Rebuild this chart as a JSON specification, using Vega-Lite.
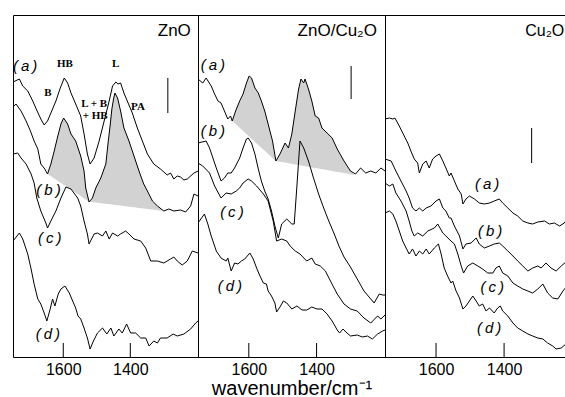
{
"$schema":"https://vega.github.io/schema/vega-lite/v6.json",
"background":"white",
"padding":{"left":12,"top":14,"right":0,"bottom":0},
"config":{"view":{"stroke":"#000","strokeWidth":1},
"axis":{"format":"d","labelFont":"Liberation Sans","labelFontSize":16,"labelColor":"#000","labelPadding":4,"labelFlush":false,"labelOverlap":false,"ticks":false,"domain":false,"grid":false,"titleFont":"Liberation Sans","titleFontSize":20,"titleFontWeight":"normal","titleColor":"#000","titleBaseline":"alphabetic","titleY":37}},
"datasets":{
"spectra":[
{"panel":1,"curve":"a","wn":1750,"abs":275},{"panel":1,"curve":"a","wn":1731,"abs":278},{"panel":1,"curve":"a","wn":1721,"abs":271},{"panel":1,"curve":"a","wn":1706,"abs":266},{"panel":1,"curve":"a","wn":1691,"abs":256},{"panel":1,"curve":"a","wn":1682,"abs":249},{"panel":1,"curve":"a","wn":1667,"abs":238},{"panel":1,"curve":"a","wn":1657,"abs":232},{"panel":1,"curve":"a","wn":1647,"abs":236},{"panel":1,"curve":"a","wn":1632,"abs":248},{"panel":1,"curve":"a","wn":1622,"abs":256},{"panel":1,"curve":"a","wn":1609,"abs":269},{"panel":1,"curve":"a","wn":1597,"abs":279},{"panel":1,"curve":"a","wn":1587,"abs":274},{"panel":1,"curve":"a","wn":1577,"abs":264},{"panel":1,"curve":"a","wn":1563,"abs":253},{"panel":1,"curve":"a","wn":1548,"abs":241},{"panel":1,"curve":"a","wn":1538,"abs":223},{"panel":1,"curve":"a","wn":1528,"abs":203},{"panel":1,"curve":"a","wn":1520,"abs":193},{"panel":1,"curve":"a","wn":1508,"abs":199},{"panel":1,"curve":"a","wn":1493,"abs":216},{"panel":1,"curve":"a","wn":1478,"abs":236},{"panel":1,"curve":"a","wn":1463,"abs":256},{"panel":1,"curve":"a","wn":1453,"abs":271},{"panel":1,"curve":"a","wn":1443,"abs":275},{"panel":1,"curve":"a","wn":1437,"abs":273},{"panel":1,"curve":"a","wn":1429,"abs":274},{"panel":1,"curve":"a","wn":1419,"abs":264},{"panel":1,"curve":"a","wn":1409,"abs":256},{"panel":1,"curve":"a","wn":1394,"abs":244},{"panel":1,"curve":"a","wn":1379,"abs":229},{"panel":1,"curve":"a","wn":1364,"abs":216},{"panel":1,"curve":"a","wn":1349,"abs":203},{"panel":1,"curve":"a","wn":1330,"abs":193},{"panel":1,"curve":"a","wn":1310,"abs":188},{"panel":1,"curve":"a","wn":1290,"abs":182},{"panel":1,"curve":"a","wn":1280,"abs":184},{"panel":1,"curve":"a","wn":1270,"abs":178},{"panel":1,"curve":"a","wn":1260,"abs":181},{"panel":1,"curve":"a","wn":1250,"abs":180},{"panel":1,"curve":"a","wn":1240,"abs":177},{"panel":1,"curve":"a","wn":1230,"abs":178},{"panel":1,"curve":"a","wn":1210,"abs":184},{"panel":1,"curve":"a","wn":1198,"abs":186},
{"panel":1,"curve":"b","wn":1750,"abs":250},{"panel":1,"curve":"b","wn":1741,"abs":253},{"panel":1,"curve":"b","wn":1726,"abs":246},{"panel":1,"curve":"b","wn":1711,"abs":236},{"panel":1,"curve":"b","wn":1698,"abs":226},{"panel":1,"curve":"b","wn":1687,"abs":216},{"panel":1,"curve":"b","wn":1676,"abs":208},{"panel":1,"curve":"b","wn":1667,"abs":193},{"panel":1,"curve":"b","wn":1655,"abs":188},{"panel":1,"curve":"b","wn":1647,"abs":183},{"panel":1,"curve":"b","wn":1637,"abs":193},{"panel":1,"curve":"b","wn":1627,"abs":206},{"panel":1,"curve":"b","wn":1617,"abs":220},{"panel":1,"curve":"b","wn":1607,"abs":233},{"panel":1,"curve":"b","wn":1599,"abs":239},{"panel":1,"curve":"b","wn":1587,"abs":233},{"panel":1,"curve":"b","wn":1577,"abs":223},{"panel":1,"curve":"b","wn":1563,"abs":216},{"panel":1,"curve":"b","wn":1548,"abs":201},{"panel":1,"curve":"b","wn":1538,"abs":186},{"panel":1,"curve":"b","wn":1533,"abs":169},{"panel":1,"curve":"b","wn":1523,"abs":155},{"panel":1,"curve":"b","wn":1513,"abs":159},{"panel":1,"curve":"b","wn":1503,"abs":169},{"panel":1,"curve":"b","wn":1488,"abs":179},{"panel":1,"curve":"b","wn":1473,"abs":193},{"panel":1,"curve":"b","wn":1466,"abs":215},{"panel":1,"curve":"b","wn":1460,"abs":232},{"panel":1,"curve":"b","wn":1455,"abs":248},{"panel":1,"curve":"b","wn":1450,"abs":258},{"panel":1,"curve":"b","wn":1446,"abs":264},{"panel":1,"curve":"b","wn":1438,"abs":259},{"panel":1,"curve":"b","wn":1429,"abs":246},{"panel":1,"curve":"b","wn":1419,"abs":229},{"panel":1,"curve":"b","wn":1404,"abs":216},{"panel":1,"curve":"b","wn":1389,"abs":201},{"panel":1,"curve":"b","wn":1374,"abs":186},{"panel":1,"curve":"b","wn":1360,"abs":173},{"panel":1,"curve":"b","wn":1349,"abs":166},{"panel":1,"curve":"b","wn":1334,"abs":156},{"panel":1,"curve":"b","wn":1319,"abs":151},{"panel":1,"curve":"b","wn":1300,"abs":146},{"panel":1,"curve":"b","wn":1285,"abs":148},{"panel":1,"curve":"b","wn":1270,"abs":146},{"panel":1,"curve":"b","wn":1250,"abs":147},{"panel":1,"curve":"b","wn":1235,"abs":145},{"panel":1,"curve":"b","wn":1220,"abs":151},{"panel":1,"curve":"b","wn":1210,"abs":163},{"panel":1,"curve":"b","wn":1198,"abs":161},
{"panel":1,"curve":"c","wn":1750,"abs":203},{"panel":1,"curve":"c","wn":1736,"abs":204},{"panel":1,"curve":"c","wn":1726,"abs":199},{"panel":1,"curve":"c","wn":1711,"abs":193},{"panel":1,"curve":"c","wn":1696,"abs":183},{"panel":1,"curve":"c","wn":1687,"abs":174},{"panel":1,"curve":"c","wn":1679,"abs":159},{"panel":1,"curve":"c","wn":1667,"abs":146},{"panel":1,"curve":"c","wn":1652,"abs":134},{"panel":1,"curve":"c","wn":1647,"abs":129},{"panel":1,"curve":"c","wn":1637,"abs":136},{"panel":1,"curve":"c","wn":1622,"abs":146},{"panel":1,"curve":"c","wn":1607,"abs":159},{"panel":1,"curve":"c","wn":1592,"abs":170},{"panel":1,"curve":"c","wn":1577,"abs":168},{"panel":1,"curve":"c","wn":1557,"abs":159},{"panel":1,"curve":"c","wn":1548,"abs":151},{"panel":1,"curve":"c","wn":1538,"abs":136},{"panel":1,"curve":"c","wn":1528,"abs":123},{"panel":1,"curve":"c","wn":1523,"abs":113},{"panel":1,"curve":"c","wn":1508,"abs":123},{"panel":1,"curve":"c","wn":1498,"abs":124},{"panel":1,"curve":"c","wn":1483,"abs":121},{"panel":1,"curve":"c","wn":1473,"abs":126},{"panel":1,"curve":"c","wn":1463,"abs":118},{"panel":1,"curve":"c","wn":1453,"abs":124},{"panel":1,"curve":"c","wn":1438,"abs":121},{"panel":1,"curve":"c","wn":1429,"abs":123},{"panel":1,"curve":"c","wn":1414,"abs":126},{"panel":1,"curve":"c","wn":1404,"abs":123},{"panel":1,"curve":"c","wn":1389,"abs":118},{"panel":1,"curve":"c","wn":1369,"abs":116},{"panel":1,"curve":"c","wn":1354,"abs":109},{"panel":1,"curve":"c","wn":1339,"abs":96},{"panel":1,"curve":"c","wn":1319,"abs":96},{"panel":1,"curve":"c","wn":1300,"abs":94},{"panel":1,"curve":"c","wn":1280,"abs":98},{"panel":1,"curve":"c","wn":1270,"abs":100},{"panel":1,"curve":"c","wn":1260,"abs":96},{"panel":1,"curve":"c","wn":1245,"abs":92},{"panel":1,"curve":"c","wn":1230,"abs":96},{"panel":1,"curve":"c","wn":1215,"abs":106},{"panel":1,"curve":"c","wn":1198,"abs":104},
{"panel":1,"curve":"d","wn":1750,"abs":116},{"panel":1,"curve":"d","wn":1731,"abs":124},{"panel":1,"curve":"d","wn":1721,"abs":118},{"panel":1,"curve":"d","wn":1706,"abs":103},{"panel":1,"curve":"d","wn":1696,"abs":88},{"panel":1,"curve":"d","wn":1687,"abs":73},{"panel":1,"curve":"d","wn":1676,"abs":58},{"panel":1,"curve":"d","wn":1667,"abs":53},{"panel":1,"curve":"d","wn":1657,"abs":44},{"panel":1,"curve":"d","wn":1649,"abs":36},{"panel":1,"curve":"d","wn":1639,"abs":48},{"panel":1,"curve":"d","wn":1632,"abs":58},{"panel":1,"curve":"d","wn":1625,"abs":51},{"panel":1,"curve":"d","wn":1615,"abs":63},{"panel":1,"curve":"d","wn":1607,"abs":68},{"panel":1,"curve":"d","wn":1595,"abs":71},{"panel":1,"curve":"d","wn":1582,"abs":64},{"panel":1,"curve":"d","wn":1572,"abs":56},{"panel":1,"curve":"d","wn":1563,"abs":49},{"panel":1,"curve":"d","wn":1556,"abs":41},{"panel":1,"curve":"d","wn":1548,"abs":38},{"panel":1,"curve":"d","wn":1538,"abs":29},{"panel":1,"curve":"d","wn":1528,"abs":19},{"panel":1,"curve":"d","wn":1520,"abs":8},{"panel":1,"curve":"d","wn":1510,"abs":16},{"panel":1,"curve":"d","wn":1498,"abs":24},{"panel":1,"curve":"d","wn":1483,"abs":29},{"panel":1,"curve":"d","wn":1470,"abs":23},{"panel":1,"curve":"d","wn":1458,"abs":29},{"panel":1,"curve":"d","wn":1449,"abs":21},{"panel":1,"curve":"d","wn":1434,"abs":28},{"panel":1,"curve":"d","wn":1424,"abs":24},{"panel":1,"curve":"d","wn":1411,"abs":33},{"panel":1,"curve":"d","wn":1399,"abs":24},{"panel":1,"curve":"d","wn":1384,"abs":24},{"panel":1,"curve":"d","wn":1369,"abs":19},{"panel":1,"curve":"d","wn":1354,"abs":19},{"panel":1,"curve":"d","wn":1344,"abs":11},{"panel":1,"curve":"d","wn":1330,"abs":16},{"panel":1,"curve":"d","wn":1319,"abs":14},{"panel":1,"curve":"d","wn":1310,"abs":19},{"panel":1,"curve":"d","wn":1290,"abs":19},{"panel":1,"curve":"d","wn":1272,"abs":23},{"panel":1,"curve":"d","wn":1260,"abs":21},{"panel":1,"curve":"d","wn":1240,"abs":23},{"panel":1,"curve":"d","wn":1220,"abs":28},{"panel":1,"curve":"d","wn":1205,"abs":34},{"panel":1,"curve":"d","wn":1198,"abs":36},
{"panel":2,"curve":"a","wn":1750,"abs":278},{"panel":2,"curve":"a","wn":1736,"abs":274},{"panel":2,"curve":"a","wn":1726,"abs":279},{"panel":2,"curve":"a","wn":1711,"abs":271},{"panel":2,"curve":"a","wn":1701,"abs":263},{"panel":2,"curve":"a","wn":1691,"abs":256},{"panel":2,"curve":"a","wn":1682,"abs":254},{"panel":2,"curve":"a","wn":1672,"abs":246},{"panel":2,"curve":"a","wn":1662,"abs":238},{"panel":2,"curve":"a","wn":1654,"abs":241},{"panel":2,"curve":"a","wn":1649,"abs":236},{"panel":2,"curve":"a","wn":1639,"abs":246},{"panel":2,"curve":"a","wn":1627,"abs":256},{"panel":2,"curve":"a","wn":1617,"abs":263},{"panel":2,"curve":"a","wn":1607,"abs":274},{"panel":2,"curve":"a","wn":1599,"abs":281},{"panel":2,"curve":"a","wn":1592,"abs":279},{"panel":2,"curve":"a","wn":1582,"abs":269},{"panel":2,"curve":"a","wn":1572,"abs":264},{"panel":2,"curve":"a","wn":1563,"abs":256},{"panel":2,"curve":"a","wn":1553,"abs":246},{"panel":2,"curve":"a","wn":1543,"abs":233},{"panel":2,"curve":"a","wn":1530,"abs":216},{"panel":2,"curve":"a","wn":1520,"abs":196},{"panel":2,"curve":"a","wn":1508,"abs":203},{"panel":2,"curve":"a","wn":1493,"abs":214},{"panel":2,"curve":"a","wn":1483,"abs":209},{"panel":2,"curve":"a","wn":1473,"abs":223},{"panel":2,"curve":"a","wn":1463,"abs":246},{"panel":2,"curve":"a","wn":1453,"abs":268},{"panel":2,"curve":"a","wn":1446,"abs":278},{"panel":2,"curve":"a","wn":1438,"abs":274},{"panel":2,"curve":"a","wn":1434,"abs":278},{"panel":2,"curve":"a","wn":1424,"abs":268},{"panel":2,"curve":"a","wn":1414,"abs":256},{"panel":2,"curve":"a","wn":1404,"abs":241},{"panel":2,"curve":"a","wn":1394,"abs":239},{"panel":2,"curve":"a","wn":1384,"abs":229},{"panel":2,"curve":"a","wn":1369,"abs":224},{"panel":2,"curve":"a","wn":1354,"abs":219},{"panel":2,"curve":"a","wn":1339,"abs":208},{"panel":2,"curve":"a","wn":1319,"abs":196},{"panel":2,"curve":"a","wn":1300,"abs":186},{"panel":2,"curve":"a","wn":1285,"abs":183},{"panel":2,"curve":"a","wn":1270,"abs":189},{"panel":2,"curve":"a","wn":1255,"abs":184},{"panel":2,"curve":"a","wn":1240,"abs":186},{"panel":2,"curve":"a","wn":1225,"abs":184},{"panel":2,"curve":"a","wn":1210,"abs":189},{"panel":2,"curve":"a","wn":1198,"abs":186},
{"panel":2,"curve":"b","wn":1750,"abs":214},{"panel":2,"curve":"b","wn":1726,"abs":216},{"panel":2,"curve":"b","wn":1716,"abs":209},{"panel":2,"curve":"b","wn":1706,"abs":199},{"panel":2,"curve":"b","wn":1696,"abs":189},{"panel":2,"curve":"b","wn":1682,"abs":176},{"panel":2,"curve":"b","wn":1672,"abs":179},{"panel":2,"curve":"b","wn":1662,"abs":184},{"panel":2,"curve":"b","wn":1652,"abs":184},{"panel":2,"curve":"b","wn":1642,"abs":189},{"panel":2,"curve":"b","wn":1627,"abs":199},{"panel":2,"curve":"b","wn":1617,"abs":209},{"panel":2,"curve":"b","wn":1607,"abs":218},{"panel":2,"curve":"b","wn":1602,"abs":219},{"panel":2,"curve":"b","wn":1592,"abs":214},{"panel":2,"curve":"b","wn":1582,"abs":203},{"panel":2,"curve":"b","wn":1572,"abs":188},{"panel":2,"curve":"b","wn":1563,"abs":176},{"panel":2,"curve":"b","wn":1553,"abs":166},{"panel":2,"curve":"b","wn":1543,"abs":158},{"panel":2,"curve":"b","wn":1533,"abs":146},{"panel":2,"curve":"b","wn":1523,"abs":131},{"panel":2,"curve":"b","wn":1513,"abs":119},{"panel":2,"curve":"b","wn":1503,"abs":133},{"panel":2,"curve":"b","wn":1488,"abs":138},{"panel":2,"curve":"b","wn":1473,"abs":133},{"panel":2,"curve":"b","wn":1466,"abs":133},{"panel":2,"curve":"b","wn":1458,"abs":171},{"panel":2,"curve":"b","wn":1449,"abs":216},{"panel":2,"curve":"b","wn":1438,"abs":209},{"panel":2,"curve":"b","wn":1424,"abs":196},{"panel":2,"curve":"b","wn":1409,"abs":179},{"panel":2,"curve":"b","wn":1394,"abs":163},{"panel":2,"curve":"b","wn":1379,"abs":149},{"panel":2,"curve":"b","wn":1364,"abs":136},{"panel":2,"curve":"b","wn":1349,"abs":124},{"panel":2,"curve":"b","wn":1334,"abs":111},{"panel":2,"curve":"b","wn":1319,"abs":100},{"panel":2,"curve":"b","wn":1300,"abs":90},{"panel":2,"curve":"b","wn":1280,"abs":78},{"panel":2,"curve":"b","wn":1260,"abs":66},{"panel":2,"curve":"b","wn":1240,"abs":58},{"panel":2,"curve":"b","wn":1230,"abs":54},{"panel":2,"curve":"b","wn":1215,"abs":63},{"panel":2,"curve":"b","wn":1205,"abs":62},{"panel":2,"curve":"b","wn":1198,"abs":62},
{"panel":2,"curve":"c","wn":1750,"abs":194},{"panel":2,"curve":"c","wn":1736,"abs":191},{"panel":2,"curve":"c","wn":1716,"abs":184},{"panel":2,"curve":"c","wn":1701,"abs":171},{"panel":2,"curve":"c","wn":1682,"abs":159},{"panel":2,"curve":"c","wn":1667,"abs":164},{"panel":2,"curve":"c","wn":1652,"abs":163},{"panel":2,"curve":"c","wn":1637,"abs":166},{"panel":2,"curve":"c","wn":1627,"abs":169},{"panel":2,"curve":"c","wn":1617,"abs":174},{"panel":2,"curve":"c","wn":1602,"abs":178},{"panel":2,"curve":"c","wn":1592,"abs":176},{"panel":2,"curve":"c","wn":1577,"abs":171},{"panel":2,"curve":"c","wn":1557,"abs":163},{"panel":2,"curve":"c","wn":1543,"abs":156},{"panel":2,"curve":"c","wn":1528,"abs":136},{"panel":2,"curve":"c","wn":1518,"abs":116},{"panel":2,"curve":"c","wn":1503,"abs":118},{"panel":2,"curve":"c","wn":1488,"abs":116},{"panel":2,"curve":"c","wn":1478,"abs":111},{"panel":2,"curve":"c","wn":1463,"abs":106},{"panel":2,"curve":"c","wn":1449,"abs":103},{"panel":2,"curve":"c","wn":1429,"abs":96},{"panel":2,"curve":"c","wn":1414,"abs":99},{"panel":2,"curve":"c","wn":1404,"abs":93},{"panel":2,"curve":"c","wn":1389,"abs":91},{"panel":2,"curve":"c","wn":1374,"abs":86},{"panel":2,"curve":"c","wn":1359,"abs":76},{"panel":2,"curve":"c","wn":1339,"abs":63},{"panel":2,"curve":"c","wn":1319,"abs":53},{"panel":2,"curve":"c","wn":1300,"abs":48},{"panel":2,"curve":"c","wn":1280,"abs":46},{"panel":2,"curve":"c","wn":1260,"abs":39},{"panel":2,"curve":"c","wn":1240,"abs":34},{"panel":2,"curve":"c","wn":1220,"abs":41},{"panel":2,"curve":"c","wn":1210,"abs":38},{"panel":2,"curve":"c","wn":1198,"abs":42},
{"panel":2,"curve":"d","wn":1750,"abs":134},{"panel":2,"curve":"d","wn":1731,"abs":143},{"panel":2,"curve":"d","wn":1721,"abs":133},{"panel":2,"curve":"d","wn":1711,"abs":121},{"panel":2,"curve":"d","wn":1696,"abs":106},{"panel":2,"curve":"d","wn":1682,"abs":99},{"panel":2,"curve":"d","wn":1667,"abs":96},{"panel":2,"curve":"d","wn":1662,"abs":99},{"panel":2,"curve":"d","wn":1652,"abs":86},{"panel":2,"curve":"d","wn":1642,"abs":94},{"panel":2,"curve":"d","wn":1632,"abs":93},{"panel":2,"curve":"d","wn":1622,"abs":96},{"panel":2,"curve":"d","wn":1612,"abs":98},{"panel":2,"curve":"d","wn":1597,"abs":104},{"panel":2,"curve":"d","wn":1587,"abs":98},{"panel":2,"curve":"d","wn":1577,"abs":89},{"panel":2,"curve":"d","wn":1567,"abs":81},{"panel":2,"curve":"d","wn":1557,"abs":74},{"panel":2,"curve":"d","wn":1548,"abs":73},{"panel":2,"curve":"d","wn":1543,"abs":66},{"panel":2,"curve":"d","wn":1533,"abs":61},{"panel":2,"curve":"d","wn":1523,"abs":54},{"panel":2,"curve":"d","wn":1518,"abs":45},{"panel":2,"curve":"d","wn":1508,"abs":50},{"panel":2,"curve":"d","wn":1498,"abs":56},{"panel":2,"curve":"d","wn":1488,"abs":54},{"panel":2,"curve":"d","wn":1473,"abs":48},{"panel":2,"curve":"d","wn":1458,"abs":51},{"panel":2,"curve":"d","wn":1443,"abs":47},{"panel":2,"curve":"d","wn":1429,"abs":47},{"panel":2,"curve":"d","wn":1414,"abs":50},{"panel":2,"curve":"d","wn":1399,"abs":48},{"panel":2,"curve":"d","wn":1384,"abs":48},{"panel":2,"curve":"d","wn":1369,"abs":43},{"panel":2,"curve":"d","wn":1354,"abs":36},{"panel":2,"curve":"d","wn":1339,"abs":27},{"panel":2,"curve":"d","wn":1332,"abs":24},{"panel":2,"curve":"d","wn":1322,"abs":28},{"panel":2,"curve":"d","wn":1310,"abs":24},{"panel":2,"curve":"d","wn":1300,"abs":21},{"panel":2,"curve":"d","wn":1280,"abs":22},{"panel":2,"curve":"d","wn":1265,"abs":20},{"panel":2,"curve":"d","wn":1250,"abs":21},{"panel":2,"curve":"d","wn":1235,"abs":18},{"panel":2,"curve":"d","wn":1220,"abs":23},{"panel":2,"curve":"d","wn":1205,"abs":26},{"panel":2,"curve":"d","wn":1198,"abs":27},
{"panel":3,"curve":"a","wn":1750,"abs":238},{"panel":3,"curve":"a","wn":1737,"abs":239},{"panel":3,"curve":"a","wn":1727,"abs":238},{"panel":3,"curve":"a","wn":1721,"abs":239},{"panel":3,"curve":"a","wn":1708,"abs":231},{"panel":3,"curve":"a","wn":1698,"abs":224},{"panel":3,"curve":"a","wn":1683,"abs":214},{"panel":3,"curve":"a","wn":1674,"abs":206},{"panel":3,"curve":"a","wn":1664,"abs":198},{"panel":3,"curve":"a","wn":1654,"abs":194},{"panel":3,"curve":"a","wn":1649,"abs":184},{"panel":3,"curve":"a","wn":1639,"abs":193},{"panel":3,"curve":"a","wn":1629,"abs":196},{"panel":3,"curve":"a","wn":1620,"abs":189},{"panel":3,"curve":"a","wn":1610,"abs":198},{"panel":3,"curve":"a","wn":1600,"abs":201},{"panel":3,"curve":"a","wn":1590,"abs":203},{"panel":3,"curve":"a","wn":1580,"abs":196},{"panel":3,"curve":"a","wn":1571,"abs":189},{"panel":3,"curve":"a","wn":1561,"abs":181},{"panel":3,"curve":"a","wn":1556,"abs":184},{"panel":3,"curve":"a","wn":1546,"abs":176},{"panel":3,"curve":"a","wn":1536,"abs":168},{"panel":3,"curve":"a","wn":1526,"abs":163},{"panel":3,"curve":"a","wn":1521,"abs":153},{"panel":3,"curve":"a","wn":1512,"abs":158},{"panel":3,"curve":"a","wn":1502,"abs":161},{"panel":3,"curve":"a","wn":1487,"abs":158},{"panel":3,"curve":"a","wn":1473,"abs":154},{"panel":3,"curve":"a","wn":1458,"abs":153},{"panel":3,"curve":"a","wn":1443,"abs":154},{"panel":3,"curve":"a","wn":1429,"abs":156},{"panel":3,"curve":"a","wn":1414,"abs":158},{"panel":3,"curve":"a","wn":1404,"abs":154},{"panel":3,"curve":"a","wn":1389,"abs":149},{"panel":3,"curve":"a","wn":1374,"abs":144},{"panel":3,"curve":"a","wn":1360,"abs":141},{"panel":3,"curve":"a","wn":1345,"abs":136},{"panel":3,"curve":"a","wn":1330,"abs":134},{"panel":3,"curve":"a","wn":1316,"abs":133},{"panel":3,"curve":"a","wn":1301,"abs":135},{"panel":3,"curve":"a","wn":1281,"abs":136},{"panel":3,"curve":"a","wn":1267,"abs":133},{"panel":3,"curve":"a","wn":1252,"abs":134},{"panel":3,"curve":"a","wn":1237,"abs":131},{"panel":3,"curve":"a","wn":1223,"abs":134},{"panel":3,"curve":"a","wn":1215,"abs":138},
{"panel":3,"curve":"b","wn":1750,"abs":198},{"panel":3,"curve":"b","wn":1732,"abs":196},{"panel":3,"curve":"b","wn":1718,"abs":186},{"panel":3,"curve":"b","wn":1703,"abs":176},{"panel":3,"curve":"b","wn":1688,"abs":166},{"panel":3,"curve":"b","wn":1679,"abs":159},{"panel":3,"curve":"b","wn":1669,"abs":149},{"panel":3,"curve":"b","wn":1659,"abs":146},{"panel":3,"curve":"b","wn":1649,"abs":149},{"panel":3,"curve":"b","wn":1639,"abs":146},{"panel":3,"curve":"b","wn":1629,"abs":149},{"panel":3,"curve":"b","wn":1615,"abs":151},{"panel":3,"curve":"b","wn":1600,"abs":156},{"panel":3,"curve":"b","wn":1590,"abs":158},{"panel":3,"curve":"b","wn":1580,"abs":149},{"panel":3,"curve":"b","wn":1571,"abs":146},{"panel":3,"curve":"b","wn":1561,"abs":139},{"panel":3,"curve":"b","wn":1556,"abs":139},{"panel":3,"curve":"b","wn":1546,"abs":131},{"panel":3,"curve":"b","wn":1531,"abs":121},{"panel":3,"curve":"b","wn":1521,"abs":108},{"panel":3,"curve":"b","wn":1512,"abs":113},{"panel":3,"curve":"b","wn":1497,"abs":114},{"panel":3,"curve":"b","wn":1482,"abs":119},{"panel":3,"curve":"b","wn":1473,"abs":113},{"panel":3,"curve":"b","wn":1458,"abs":109},{"panel":3,"curve":"b","wn":1443,"abs":111},{"panel":3,"curve":"b","wn":1429,"abs":113},{"panel":3,"curve":"b","wn":1414,"abs":114},{"panel":3,"curve":"b","wn":1404,"abs":111},{"panel":3,"curve":"b","wn":1389,"abs":106},{"panel":3,"curve":"b","wn":1374,"abs":101},{"panel":3,"curve":"b","wn":1360,"abs":96},{"panel":3,"curve":"b","wn":1345,"abs":91},{"panel":3,"curve":"b","wn":1330,"abs":86},{"panel":3,"curve":"b","wn":1316,"abs":89},{"panel":3,"curve":"b","wn":1301,"abs":91},{"panel":3,"curve":"b","wn":1291,"abs":89},{"panel":3,"curve":"b","wn":1277,"abs":94},{"panel":3,"curve":"b","wn":1262,"abs":89},{"panel":3,"curve":"b","wn":1247,"abs":86},{"panel":3,"curve":"b","wn":1232,"abs":91},{"panel":3,"curve":"b","wn":1215,"abs":96},
{"panel":3,"curve":"c","wn":1750,"abs":174},{"panel":3,"curve":"c","wn":1737,"abs":171},{"panel":3,"curve":"c","wn":1727,"abs":173},{"panel":3,"curve":"c","wn":1718,"abs":164},{"panel":3,"curve":"c","wn":1703,"abs":156},{"panel":3,"curve":"c","wn":1688,"abs":146},{"panel":3,"curve":"c","wn":1679,"abs":136},{"panel":3,"curve":"c","wn":1671,"abs":126},{"panel":3,"curve":"c","wn":1664,"abs":121},{"panel":3,"curve":"c","wn":1654,"abs":124},{"panel":3,"curve":"c","wn":1639,"abs":121},{"panel":3,"curve":"c","wn":1624,"abs":126},{"panel":3,"curve":"c","wn":1605,"abs":129},{"panel":3,"curve":"c","wn":1595,"abs":133},{"panel":3,"curve":"c","wn":1580,"abs":124},{"panel":3,"curve":"c","wn":1571,"abs":121},{"panel":3,"curve":"c","wn":1556,"abs":116},{"panel":3,"curve":"c","wn":1546,"abs":113},{"panel":3,"curve":"c","wn":1536,"abs":103},{"panel":3,"curve":"c","wn":1526,"abs":91},{"panel":3,"curve":"c","wn":1519,"abs":84},{"panel":3,"curve":"c","wn":1507,"abs":91},{"panel":3,"curve":"c","wn":1492,"abs":94},{"panel":3,"curve":"c","wn":1477,"abs":91},{"panel":3,"curve":"c","wn":1463,"abs":88},{"panel":3,"curve":"c","wn":1448,"abs":84},{"panel":3,"curve":"c","wn":1433,"abs":84},{"panel":3,"curve":"c","wn":1424,"abs":89},{"panel":3,"curve":"c","wn":1414,"abs":91},{"panel":3,"curve":"c","wn":1404,"abs":84},{"panel":3,"curve":"c","wn":1389,"abs":81},{"panel":3,"curve":"c","wn":1374,"abs":74},{"panel":3,"curve":"c","wn":1360,"abs":71},{"panel":3,"curve":"c","wn":1345,"abs":68},{"panel":3,"curve":"c","wn":1330,"abs":66},{"panel":3,"curve":"c","wn":1316,"abs":64},{"panel":3,"curve":"c","wn":1301,"abs":68},{"panel":3,"curve":"c","wn":1286,"abs":73},{"panel":3,"curve":"c","wn":1272,"abs":64},{"panel":3,"curve":"c","wn":1257,"abs":59},{"panel":3,"curve":"c","wn":1242,"abs":58},{"panel":3,"curve":"c","wn":1227,"abs":66},{"panel":3,"curve":"c","wn":1215,"abs":71},
{"panel":3,"curve":"d","wn":1750,"abs":144},{"panel":3,"curve":"d","wn":1737,"abs":146},{"panel":3,"curve":"d","wn":1727,"abs":143},{"panel":3,"curve":"d","wn":1718,"abs":136},{"panel":3,"curve":"d","wn":1708,"abs":126},{"panel":3,"curve":"d","wn":1698,"abs":116},{"panel":3,"curve":"d","wn":1688,"abs":109},{"panel":3,"curve":"d","wn":1679,"abs":103},{"panel":3,"curve":"d","wn":1669,"abs":108},{"panel":3,"curve":"d","wn":1659,"abs":101},{"panel":3,"curve":"d","wn":1649,"abs":106},{"panel":3,"curve":"d","wn":1639,"abs":103},{"panel":3,"curve":"d","wn":1629,"abs":108},{"panel":3,"curve":"d","wn":1620,"abs":103},{"panel":3,"curve":"d","wn":1605,"abs":109},{"panel":3,"curve":"d","wn":1593,"abs":113},{"panel":3,"curve":"d","wn":1585,"abs":103},{"panel":3,"curve":"d","wn":1576,"abs":89},{"panel":3,"curve":"d","wn":1566,"abs":81},{"panel":3,"curve":"d","wn":1556,"abs":74},{"panel":3,"curve":"d","wn":1551,"abs":76},{"panel":3,"curve":"d","wn":1541,"abs":66},{"panel":3,"curve":"d","wn":1531,"abs":59},{"panel":3,"curve":"d","wn":1521,"abs":48},{"panel":3,"curve":"d","wn":1512,"abs":51},{"panel":3,"curve":"d","wn":1502,"abs":56},{"panel":3,"curve":"d","wn":1492,"abs":61},{"panel":3,"curve":"d","wn":1482,"abs":56},{"panel":3,"curve":"d","wn":1473,"abs":51},{"panel":3,"curve":"d","wn":1463,"abs":53},{"panel":3,"curve":"d","wn":1453,"abs":46},{"panel":3,"curve":"d","wn":1443,"abs":49},{"panel":3,"curve":"d","wn":1429,"abs":44},{"panel":3,"curve":"d","wn":1419,"abs":49},{"panel":3,"curve":"d","wn":1411,"abs":51},{"panel":3,"curve":"d","wn":1404,"abs":46},{"panel":3,"curve":"d","wn":1389,"abs":41},{"panel":3,"curve":"d","wn":1374,"abs":34},{"panel":3,"curve":"d","wn":1360,"abs":29},{"panel":3,"curve":"d","wn":1345,"abs":26},{"panel":3,"curve":"d","wn":1330,"abs":23},{"panel":3,"curve":"d","wn":1316,"abs":21},{"panel":3,"curve":"d","wn":1301,"abs":19},{"panel":3,"curve":"d","wn":1286,"abs":18},{"panel":3,"curve":"d","wn":1272,"abs":14},{"panel":3,"curve":"d","wn":1257,"abs":11},{"panel":3,"curve":"d","wn":1247,"abs":8},{"panel":3,"curve":"d","wn":1232,"abs":9},{"panel":3,"curve":"d","wn":1215,"abs":14}
],
"shade":[
{"panel":1,"seg":1,"wn":1647,"abs":183,"base":183},{"panel":1,"seg":1,"wn":1637,"abs":193,"base":180.8},{"panel":1,"seg":1,"wn":1627,"abs":206,"base":178.5},{"panel":1,"seg":1,"wn":1617,"abs":220,"base":176.3},{"panel":1,"seg":1,"wn":1607,"abs":233,"base":174.1},{"panel":1,"seg":1,"wn":1599,"abs":239,"base":172.3},{"panel":1,"seg":1,"wn":1587,"abs":233,"base":169.6},{"panel":1,"seg":1,"wn":1577,"abs":223,"base":167.4},{"panel":1,"seg":1,"wn":1563,"abs":216,"base":164.2},{"panel":1,"seg":1,"wn":1548,"abs":201,"base":160.9},{"panel":1,"seg":1,"wn":1538,"abs":186,"base":158.6},{"panel":1,"seg":1,"wn":1533,"abs":169,"base":157.5},{"panel":1,"seg":1,"wn":1523,"abs":155,"base":155.3},
{"panel":1,"seg":2,"wn":1523,"abs":155,"base":155.3},{"panel":1,"seg":2,"wn":1513,"abs":159,"base":154.9},{"panel":1,"seg":2,"wn":1503,"abs":169,"base":154.5},{"panel":1,"seg":2,"wn":1488,"abs":179,"base":153.8},{"panel":1,"seg":2,"wn":1473,"abs":193,"base":153.2},{"panel":1,"seg":2,"wn":1466,"abs":215,"base":152.9},{"panel":1,"seg":2,"wn":1460,"abs":232,"base":152.7},{"panel":1,"seg":2,"wn":1455,"abs":248,"base":152.5},{"panel":1,"seg":2,"wn":1450,"abs":258,"base":152.3},{"panel":1,"seg":2,"wn":1446,"abs":264,"base":152.1},{"panel":1,"seg":2,"wn":1438,"abs":259,"base":151.8},{"panel":1,"seg":2,"wn":1429,"abs":246,"base":151.4},{"panel":1,"seg":2,"wn":1419,"abs":229,"base":151},{"panel":1,"seg":2,"wn":1404,"abs":216,"base":150.3},{"panel":1,"seg":2,"wn":1389,"abs":201,"base":149.7},{"panel":1,"seg":2,"wn":1374,"abs":186,"base":149.1},{"panel":1,"seg":2,"wn":1360,"abs":173,"base":148.5},{"panel":1,"seg":2,"wn":1349,"abs":166,"base":148},{"panel":1,"seg":2,"wn":1334,"abs":156,"base":147.4},{"panel":1,"seg":2,"wn":1319,"abs":151,"base":146.8},{"panel":1,"seg":2,"wn":1300,"abs":146,"base":146},
{"panel":2,"seg":1,"wn":1649,"abs":236,"base":236},{"panel":2,"seg":1,"wn":1639,"abs":246,"base":232.9},{"panel":2,"seg":1,"wn":1627,"abs":256,"base":229.2},{"panel":2,"seg":1,"wn":1617,"abs":263,"base":226.1},{"panel":2,"seg":1,"wn":1607,"abs":274,"base":223},{"panel":2,"seg":1,"wn":1599,"abs":281,"base":220.5},{"panel":2,"seg":1,"wn":1592,"abs":279,"base":218.3},{"panel":2,"seg":1,"wn":1582,"abs":269,"base":215.2},{"panel":2,"seg":1,"wn":1572,"abs":264,"base":212.1},{"panel":2,"seg":1,"wn":1563,"abs":256,"base":209.3},{"panel":2,"seg":1,"wn":1553,"abs":246,"base":206.2},{"panel":2,"seg":1,"wn":1543,"abs":233,"base":203.1},{"panel":2,"seg":1,"wn":1530,"abs":216,"base":199.1},{"panel":2,"seg":1,"wn":1520,"abs":196,"base":196},
{"panel":2,"seg":2,"wn":1520,"abs":196,"base":196},{"panel":2,"seg":2,"wn":1508,"abs":203,"base":195.3},{"panel":2,"seg":2,"wn":1493,"abs":214,"base":194.4},{"panel":2,"seg":2,"wn":1483,"abs":209,"base":193.8},{"panel":2,"seg":2,"wn":1473,"abs":223,"base":193.2},{"panel":2,"seg":2,"wn":1463,"abs":246,"base":192.6},{"panel":2,"seg":2,"wn":1453,"abs":268,"base":192},{"panel":2,"seg":2,"wn":1446,"abs":278,"base":191.5},{"panel":2,"seg":2,"wn":1438,"abs":274,"base":191},{"panel":2,"seg":2,"wn":1434,"abs":278,"base":190.8},{"panel":2,"seg":2,"wn":1424,"abs":268,"base":190.2},{"panel":2,"seg":2,"wn":1414,"abs":256,"base":189.6},{"panel":2,"seg":2,"wn":1404,"abs":241,"base":189},{"panel":2,"seg":2,"wn":1394,"abs":239,"base":188.4},{"panel":2,"seg":2,"wn":1384,"abs":229,"base":187.8},{"panel":2,"seg":2,"wn":1369,"abs":224,"base":186.9},{"panel":2,"seg":2,"wn":1354,"abs":219,"base":186},{"panel":2,"seg":2,"wn":1339,"abs":208,"base":185.1},{"panel":2,"seg":2,"wn":1319,"abs":196,"base":183.9},{"panel":2,"seg":2,"wn":1300,"abs":186,"base":182.7},{"panel":2,"seg":2,"wn":1288,"abs":182,"base":182}
],
"labels":[
{"panel":1,"kind":"curve","text":"(\u2009a\u2009)","wn":1714,"abs":291},{"panel":1,"kind":"curve","text":"(\u2009b\u2009)","wn":1644,"abs":167},{"panel":1,"kind":"curve","text":"(\u2009c\u2009)","wn":1640,"abs":119},{"panel":1,"kind":"curve","text":"(\u2009d\u2009)","wn":1646,"abs":23},
{"panel":2,"kind":"curve","text":"(\u2009a\u2009)","wn":1706,"abs":292},{"panel":2,"kind":"curve","text":"(\u2009b\u2009)","wn":1706,"abs":226},{"panel":2,"kind":"curve","text":"(\u2009c\u2009)","wn":1650,"abs":145},{"panel":2,"kind":"curve","text":"(\u2009d\u2009)","wn":1656,"abs":71},
{"panel":3,"kind":"curve","text":"(\u2009a\u2009)","wn":1450,"abs":173},{"panel":3,"kind":"curve","text":"(\u2009b\u2009)","wn":1441,"abs":126},{"panel":3,"kind":"curve","text":"(\u2009c\u2009)","wn":1435,"abs":70},{"panel":3,"kind":"curve","text":"(\u2009d\u2009)","wn":1444,"abs":29},
{"panel":1,"kind":"band","text":"HB","wn":1595,"abs":293},{"panel":1,"kind":"band","text":"B","wn":1646,"abs":264},{"panel":1,"kind":"band","text":"L","wn":1444,"abs":293},{"panel":1,"kind":"band","text":"L + B","wn":1508,"abs":253},{"panel":1,"kind":"band","text":"+ HB","wn":1505,"abs":241},{"panel":1,"kind":"band","text":"PA","wn":1377,"abs":250},
{"panel":1,"kind":"title","text":"ZnO","wn":1318,"abs":321},{"panel":2,"kind":"title","text":"ZnO/Cu\u2082O","wn":1456,"abs":321},{"panel":3,"kind":"title","text":"Cu\u2082O","wn":1338,"abs":321}
],
"bars":[
{"panel":1,"wn":1288,"abs":279,"abs2":244},{"panel":2,"wn":1298,"abs":291,"abs2":258},{"panel":3,"wn":1319,"abs":229,"abs2":194}
],
"ticks":[{"wn":1600,"abs":0,"abs2":14},{"wn":1400,"abs":0,"abs2":14}]
},
"spacing":0,
"bounds":"flush",
"hconcat":[
{"width":185,"height":342,
"encoding":{"x":{"field":"wn","type":"quantitative","scale":{"domain":[1750,1198],"nice":false,"zero":false},"axis":{"values":[1600,1400],"title":null}},
"y":{"field":"abs","type":"quantitative","scale":{"domain":[0,342],"nice":false,"zero":false},"axis":null}},
"layer":[
{"data":{"name":"shade"},"transform":[{"filter":"datum.panel==1"}],"mark":{"type":"area","fill":"#d2d2d2","opacity":1,"clip":true},"encoding":{"y2":{"field":"base"},"detail":{"field":"seg"}}},
{"data":{"name":"spectra"},"transform":[{"filter":"datum.panel==1"}],"mark":{"type":"line","color":"#000","strokeWidth":1,"clip":true},"encoding":{"detail":{"field":"curve"}}},
{"data":{"name":"bars"},"transform":[{"filter":"datum.panel==1"}],"mark":{"type":"rule","color":"#000","strokeWidth":1},"encoding":{"y2":{"field":"abs2"}}},
{"data":{"name":"ticks"},"mark":{"type":"rule","color":"#000","strokeWidth":1},"encoding":{"y2":{"field":"abs2"}}},
{"data":{"name":"labels"},"transform":[{"filter":"datum.panel==1 && datum.kind=='curve'"}],"mark":{"type":"text","font":"Liberation Sans","fontSize":15,"fontStyle":"italic","color":"#000","align":"center","baseline":"middle","clip":true},"encoding":{"text":{"field":"text"}}},
{"data":{"name":"labels"},"transform":[{"filter":"datum.panel==1 && datum.kind=='band'"}],"mark":{"type":"text","font":"Liberation Serif","fontSize":11,"fontWeight":"bold","color":"#000","align":"center","baseline":"middle","clip":true},"encoding":{"text":{"field":"text"}}},
{"data":{"name":"labels"},"transform":[{"filter":"datum.panel==1 && datum.kind=='title'"}],"mark":{"type":"text","font":"Liberation Sans","fontSize":17,"color":"#000","align":"left","baseline":"alphabetic","clip":true},"encoding":{"text":{"field":"text"}}}
]},
{"width":187,"height":342,
"encoding":{"x":{"field":"wn","type":"quantitative","scale":{"domain":[1750,1198],"nice":false,"zero":false},"axis":{"values":[1600,1400],"title":"wavenumber/cm\u207b\u00b9"}},
"y":{"field":"abs","type":"quantitative","scale":{"domain":[0,342],"nice":false,"zero":false},"axis":null}},
"layer":[
{"data":{"name":"shade"},"transform":[{"filter":"datum.panel==2"}],"mark":{"type":"area","fill":"#d2d2d2","opacity":1,"clip":true},"encoding":{"y2":{"field":"base"},"detail":{"field":"seg"}}},
{"data":{"name":"spectra"},"transform":[{"filter":"datum.panel==2"}],"mark":{"type":"line","color":"#000","strokeWidth":1,"clip":true},"encoding":{"detail":{"field":"curve"}}},
{"data":{"name":"bars"},"transform":[{"filter":"datum.panel==2"}],"mark":{"type":"rule","color":"#000","strokeWidth":1},"encoding":{"y2":{"field":"abs2"}}},
{"data":{"name":"ticks"},"mark":{"type":"rule","color":"#000","strokeWidth":1},"encoding":{"y2":{"field":"abs2"}}},
{"data":{"name":"labels"},"transform":[{"filter":"datum.panel==2 && datum.kind=='curve'"}],"mark":{"type":"text","font":"Liberation Sans","fontSize":15,"fontStyle":"italic","color":"#000","align":"center","baseline":"middle","clip":true},"encoding":{"text":{"field":"text"}}},
{"data":{"name":"labels"},"transform":[{"filter":"datum.panel==2 && datum.kind=='title'"}],"mark":{"type":"text","font":"Liberation Sans","fontSize":17,"color":"#000","align":"left","baseline":"alphabetic","clip":true},"encoding":{"text":{"field":"text"}}}
]},
{"width":181,"height":342,
"encoding":{"x":{"field":"wn","type":"quantitative","scale":{"domain":[1750,1218],"nice":false,"zero":false},"axis":{"values":[1600,1400],"title":null}},
"y":{"field":"abs","type":"quantitative","scale":{"domain":[0,342],"nice":false,"zero":false},"axis":null}},
"layer":[
{"data":{"name":"spectra"},"transform":[{"filter":"datum.panel==3"}],"mark":{"type":"line","color":"#000","strokeWidth":1,"clip":true},"encoding":{"detail":{"field":"curve"}}},
{"data":{"name":"bars"},"transform":[{"filter":"datum.panel==3"}],"mark":{"type":"rule","color":"#000","strokeWidth":1},"encoding":{"y2":{"field":"abs2"}}},
{"data":{"name":"ticks"},"mark":{"type":"rule","color":"#000","strokeWidth":1},"encoding":{"y2":{"field":"abs2"}}},
{"data":{"name":"labels"},"transform":[{"filter":"datum.panel==3 && datum.kind=='curve'"}],"mark":{"type":"text","font":"Liberation Sans","fontSize":15,"fontStyle":"italic","color":"#000","align":"center","baseline":"middle","clip":true},"encoding":{"text":{"field":"text"}}},
{"data":{"name":"labels"},"transform":[{"filter":"datum.panel==3 && datum.kind=='title'"}],"mark":{"type":"text","font":"Liberation Sans","fontSize":16,"color":"#000","align":"left","baseline":"alphabetic","clip":true},"encoding":{"text":{"field":"text"}}}
]}
]
}
